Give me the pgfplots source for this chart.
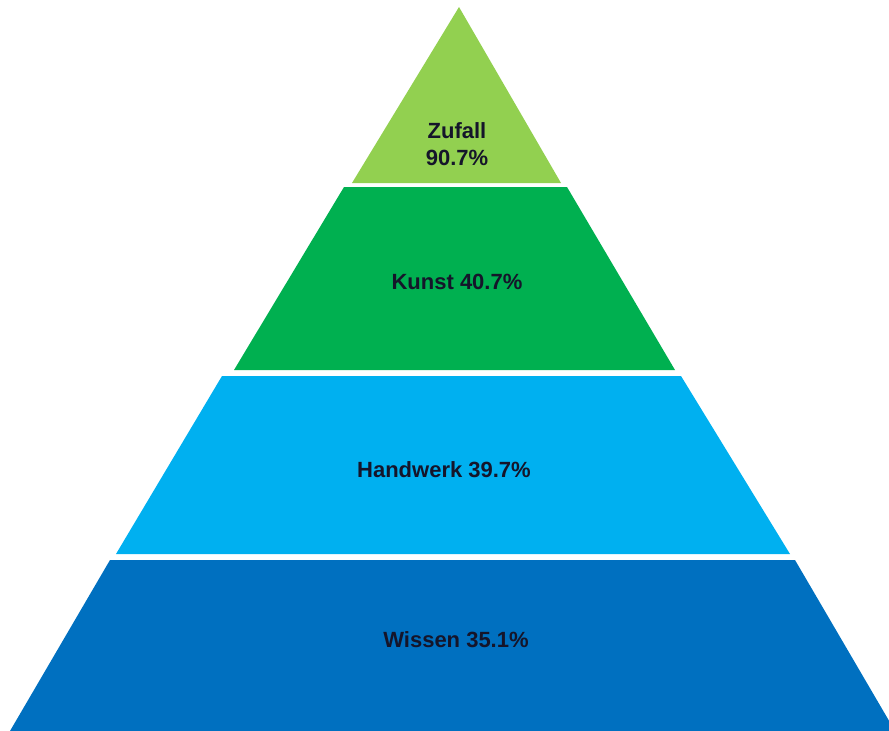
\documentclass[border=0pt]{standalone}
\usepackage{pgfplots}
\pgfplotsset{compat=1.18}
\usepackage{fontspec}
\setmainfont{Liberation Sans}
\definecolor{lgreen}{HTML}{92D050}
\definecolor{mgreen}{HTML}{00B050}
\definecolor{lblue}{HTML}{00B0F0}
\definecolor{dblue}{HTML}{0070C0}
\definecolor{txt}{HTML}{15152A}
\begin{document}
\begin{tikzpicture}
\begin{axis}[
  scale only axis, width=889pt, height=731pt,
  xmin=0, xmax=889, ymin=0, ymax=731, y dir=reverse,
  hide axis, clip=true,
  nodes={font=\bfseries\fontsize{22}{27}\selectfont, text=txt, align=center}
]
\path (rel axis cs:0,0) rectangle (rel axis cs:1,1);
% Zufall
\addplot[fill=lgreen, draw=none] coordinates {(459,7) (561,183) (352,183)} -- cycle;
% Kunst
\addplot[fill=mgreen, draw=none] coordinates {(344,187) (567,187) (675,370) (234,370)} -- cycle;
% Handwerk
\addplot[fill=lblue, draw=none] coordinates {(222,376) (681,376) (790,554) (116,554)} -- cycle;
% Wissen
\addplot[fill=dblue, draw=none] coordinates {(110,560) (795,560) (895,731) (10,731)} -- cycle;
\node at (axis cs:457,144) {Zufall\\90.7\%};
\node at (axis cs:457,282) {Kunst 40.7\%};
\node at (axis cs:444,470) {Handwerk 39.7\%};
\node at (axis cs:456,640) {Wissen 35.1\%};
\end{axis}
\end{tikzpicture}
\end{document}
